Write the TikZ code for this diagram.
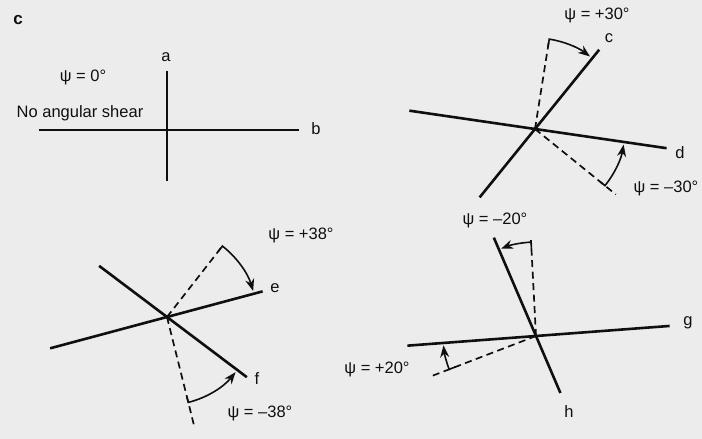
\documentclass[tikz,border=0pt]{standalone}
\usepackage{fontspec}
\setmainfont{Liberation Sans}
\usetikzlibrary{arrows.meta,calc}
\definecolor{bg}{RGB}{236,236,236}
\definecolor{ink}{RGB}{15,15,15}
\begin{document}
\begin{tikzpicture}[x=1pt,y=1pt,
  axisline/.style={line width=2.6pt, draw=ink},
  refline/.style={line width=1.7pt, draw=ink, dash pattern=on 7pt off 4.5pt},
  shear/.style={line width=1.6pt, draw=ink, -{Stealth[length=12pt,width=9pt]}},
  lbl/.style={font=\fontsize{16.5}{18}\selectfont, text=ink, inner sep=0pt}]
\fill[bg] (0,0) rectangle (702,439);
\useasboundingbox (0,0) rectangle (702,439);

% ---------- panel 1 ----------
\coordinate (C1) at (167,309);
\coordinate (a1) at (167,368);
\coordinate (a2) at (167,258);
\coordinate (b1) at (39,309);
\coordinate (b2) at (299,309);
\draw[axisline] (a1) -- (a2);
\draw[axisline] (b1) -- (b2);
\node[lbl, font=\fontsize{17}{18}\selectfont\bfseries] (panel) at (18,419) {c};
\node[lbl] (la) at (166,382) {a};
\node[lbl] (lb) at (316,310) {b};
\node[lbl] (psi0) at (83,362) {ψ = 0°};
\node[lbl] (noshear) at (80,326) {No angular shear};

% ---------- panel 2 ----------
\coordinate (C2) at (535,310);
\coordinate (c1) at ($(C2)+(51:102)$);
\coordinate (c2) at ($(C2)+(231:88)$);
\coordinate (d1) at ($(C2)+(-8.3:133)$);
\coordinate (d2) at ($(C2)+(171.7:127)$);
\coordinate (c0) at ($(C2)+(81:92)$);
\coordinate (d0) at ($(C2)+(-39:104)$);
\draw[axisline] (c2) -- (c1);
\draw[axisline] (d2) -- (d1);
\draw[refline] (C2) -- (c0);
\draw[refline] (C2) -- (d0);
\draw[shear] ($(C2)+(81:84)$) -- ($(C2)+(81:91)$) arc[start angle=81, end angle=52.8, radius=91];
\draw[shear] ($(C2)+(-39:84)$) -- ($(C2)+(-39:90)$) arc[start angle=-39, end angle=-10, radius=90];
\node[lbl] (psi30p) at (597,424) {ψ = +30°};
\node[lbl] (lc) at (609,401) {c};
\node[lbl] (ld) at (680,286) {d};
\node[lbl] (psi30m) at (666,251) {ψ = –30°};

% ---------- panel 3 ----------
\coordinate (C3) at (167,122);
\coordinate (e1) at ($(C3)+(15:99)$);
\coordinate (e2) at ($(C3)+(195:121)$);
\coordinate (f1) at ($(C3)+(-37:100)$);
\coordinate (f2) at ($(C3)+(143:85)$);
\coordinate (e0) at ($(C3)+(52:92)$);
\coordinate (f0) at ($(C3)+(-76:111)$);
\draw[axisline] (e2) -- (e1);
\draw[axisline] (f2) -- (f1);
\draw[refline] (C3) -- (e0);
\draw[refline] (C3) -- (f0);
\draw[shear] ($(C3)+(52:83)$) -- ($(C3)+(52:90)$) arc[start angle=52, end angle=16.8, radius=90];
\draw[shear] ($(C3)+(-76:82)$) -- ($(C3)+(-76:88)$) arc[start angle=-76, end angle=-38.8, radius=88];
\node[lbl] (psi38p) at (301,204) {ψ = +38°};
\node[lbl] (le) at (275,151) {e};
\node[lbl] (lf) at (257,60) {f};
\node[lbl] (psi38m) at (260,26) {ψ = –38°};

% ---------- panel 4 ----------
\coordinate (C4) at (536,103);
\coordinate (g1) at ($(C4)+(4.3:134)$);
\coordinate (g2) at ($(C4)+(184.3:129)$);
\coordinate (h1) at ($(C4)+(113.2:107)$);
\coordinate (h2) at ($(C4)+(-66.8:62)$);
\coordinate (h0) at ($(C4)+(93:96)$);
\coordinate (g0) at ($(C4)+(201:111)$);
\draw[axisline] (g2) -- (g1);
\draw[axisline] (h2) -- (h1);
\draw[refline] (C4) -- (h0);
\draw[refline] (C4) -- (g0);
\draw[shear] ($(C4)+(93:87)$) -- ($(C4)+(93:94)$) arc[start angle=93, end angle=111.8, radius=94];
\draw[shear] ($(C4)+(201:86)$) -- ($(C4)+(201:93)$) arc[start angle=201, end angle=185.8, radius=93];
\node[lbl] (psi20m) at (495,219) {ψ = –20°};
\node[lbl] (lg) at (688,116) {g};
\node[lbl] (lh) at (569,27) {h};
\node[lbl] (psi20p) at (377,70) {ψ = +20°};
\end{tikzpicture}
\end{document}
